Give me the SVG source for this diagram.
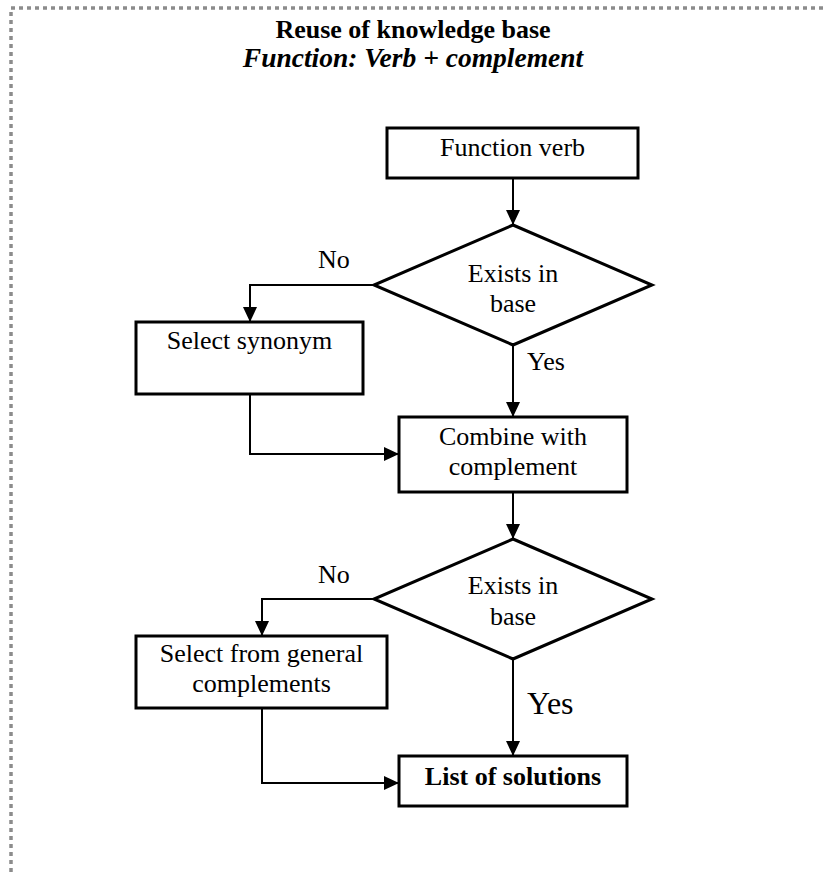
<svg xmlns="http://www.w3.org/2000/svg" width="826" height="872" viewBox="0 0 826 872">
<style>
  .box { fill: #fff; stroke: #000; stroke-width: 3; }
  .dia { fill: #fff; stroke: #000; stroke-width: 3; }
  .t { font-family: "Liberation Serif", "Times New Roman", serif; font-size: 26px; fill: #000; }
  .c { text-anchor: middle; }
  .b { font-weight: bold; }
  .conn { fill: none; stroke: #000; stroke-width: 2; marker-end: url(#arr); }
</style>
<defs>
  <marker id="arr" markerUnits="userSpaceOnUse" markerWidth="15" markerHeight="14" refX="15" refY="7" orient="auto">
    <path d="M0,0 L15,7 L0,14 z" fill="#000"/>
  </marker>
</defs>
<rect x="0" y="0" width="826" height="872" fill="#fff"/>
<rect id="frame" x="11" y="8" width="900" height="900" fill="none" stroke="#8c8c8c" stroke-width="3.5" stroke-dasharray="4 4"/>
<g id="title">
  <text class="t c b" x="413" y="38">Reuse of knowledge base</text>
  <text class="t c b" x="413" y="67" font-style="italic" style="font-size:27.5px">Function: Verb + complement</text>
</g>
<g id="connectors">
  <path class="conn" d="M513,178 L513,225"/>
  <path class="conn" d="M375,285 L250,285 L250,322"/>
  <path class="conn" d="M513,345 L513,417"/>
  <path class="conn" d="M250,394 L250,454 L399,454"/>
  <path class="conn" d="M513,492 L513,539"/>
  <path class="conn" d="M375,599 L262,599 L262,636"/>
  <path class="conn" d="M513,659 L513,756"/>
  <path class="conn" d="M262,708 L262,783 L399,783"/>
  <text class="t" x="318" y="268">No</text>
  <text class="t" x="527" y="370">Yes</text>
  <text class="t" x="318" y="583">No</text>
  <text class="t" x="527" y="714" style="font-size:32px">Yes</text>
</g>
<g id="function-verb">
  <rect class="box" x="387" y="128" width="251" height="50"/>
  <text class="t c" x="512.5" y="156">Function verb</text>
</g>
<g id="exists1">
  <polygon class="dia" points="513,225 652,285 513,345 374,285"/>
  <text class="t c" x="513" y="282">Exists in</text>
  <text class="t c" x="513" y="312">base</text>
</g>
<g id="select-synonym">
  <rect class="box" x="136" y="322" width="227" height="72"/>
  <text class="t c" x="249.5" y="349">Select synonym</text>
</g>
<g id="combine">
  <rect class="box" x="399" y="417" width="228" height="75"/>
  <text class="t c" x="513" y="445">Combine with</text>
  <text class="t c" x="513" y="475">complement</text>
</g>
<g id="exists2">
  <polygon class="dia" points="513,539 652,599 513,659 374,599"/>
  <text class="t c" x="513" y="594">Exists in</text>
  <text class="t c" x="513" y="625">base</text>
</g>
<g id="select-general">
  <rect class="box" x="136" y="636" width="251" height="72"/>
  <text class="t c" x="261.5" y="662">Select from general</text>
  <text class="t c" x="261.5" y="692">complements</text>
</g>
<g id="list">
  <rect class="box" x="399" y="756" width="228" height="50"/>
  <text class="t c b" x="513" y="785">List of solutions</text>
</g>
</svg>
